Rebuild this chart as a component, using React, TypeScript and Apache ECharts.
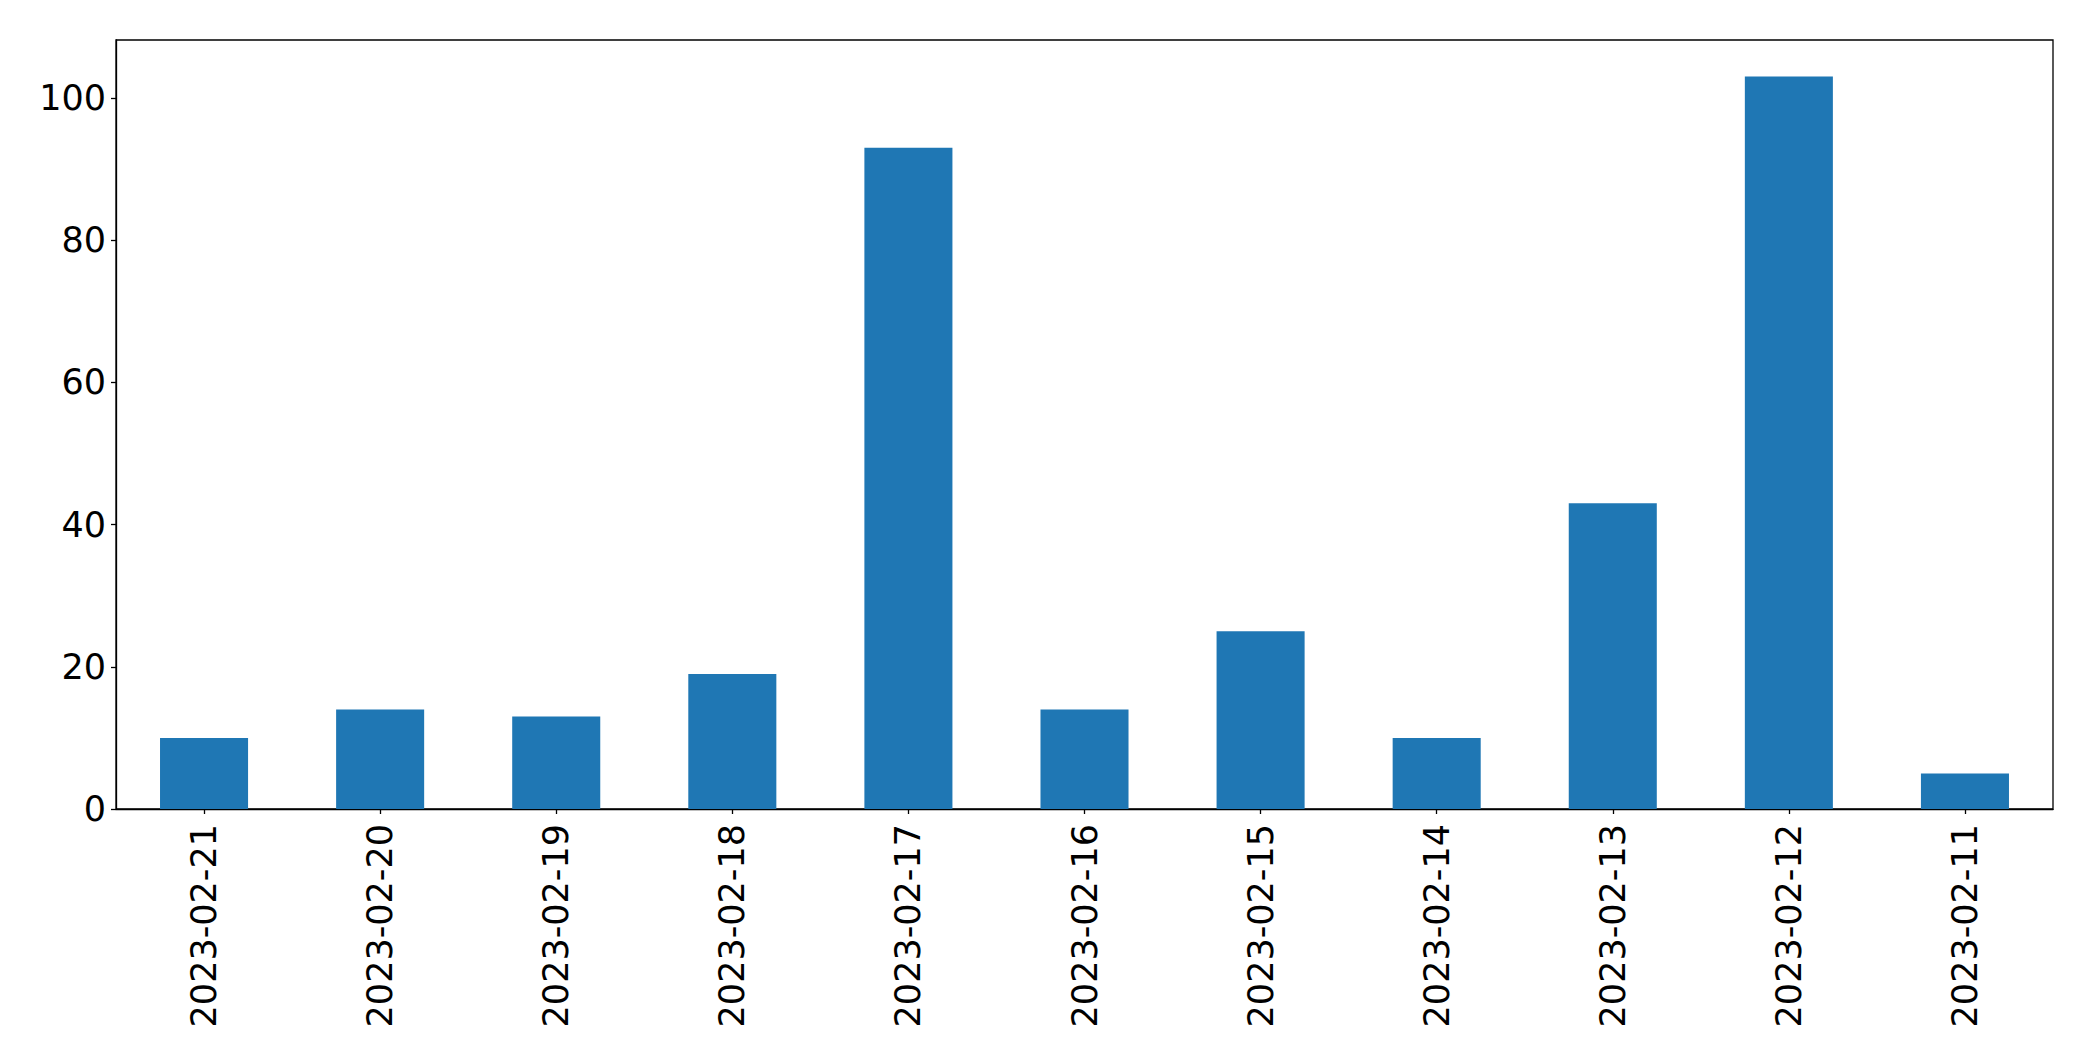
import React, { useEffect, useRef } from "react";
import * as echarts from "echarts";

const categories = [
  "2023-02-21",
  "2023-02-20",
  "2023-02-19",
  "2023-02-18",
  "2023-02-17",
  "2023-02-16",
  "2023-02-15",
  "2023-02-14",
  "2023-02-13",
  "2023-02-12",
  "2023-02-11",
];
const values = [10, 14, 13, 19, 93, 14, 25, 10, 43, 103, 5];
const yTicks = [0, 20, 40, 60, 80, 100];
const yMax = 108.15;

export default function App() {
  const ref = useRef<HTMLDivElement>(null);
  useEffect(() => {
    if (!ref.current) return;
    const chart = echarts.init(ref.current, null, { renderer: "svg" });
    const font = "DejaVu Sans";
    chart.setOption({
      animation: false,
      backgroundColor: "#ffffff",
      grid: {
        left: 116,
        right: 40,
        top: 40,
        bottom: 252,
        show: true,
        borderColor: "#000000",
        borderWidth: 1.3,
        backgroundColor: "transparent",
      },
      xAxis: {
        type: "category",
        data: categories,
        boundaryGap: true,
        axisLine: { show: true, lineStyle: { color: "#000000", width: 1.3 } },
        axisTick: {
          show: true,
          alignWithLabel: true,
          length: 5,
          lineStyle: { color: "#000000", width: 1.3 },
        },
        axisLabel: {
          rotate: 90,
          margin: 15,
          color: "#000000",
          fontFamily: font,
          fontSize: 35,
          interval: 0,
        },
        splitLine: { show: false },
      },
      yAxis: {
        type: "value",
        min: 0,
        max: yMax,
        axisLine: { show: true, lineStyle: { color: "#000000", width: 1.3 } },
        axisTick: {
          show: true,
          length: 5,
          customValues: yTicks,
          lineStyle: { color: "#000000", width: 1.3 },
        },
        axisLabel: {
          customValues: yTicks,
          margin: 10,
          color: "#000000",
          fontFamily: font,
          fontSize: 35,
        },
        splitLine: { show: false },
      },
      series: [
        {
          type: "bar",
          data: values,
          barWidth: "50%",
          itemStyle: { color: "#1f77b4" },
        },
      ],
    });
    return () => chart.dispose();
  }, []);
  return (
    <div
      ref={ref}
      style={{ position: "fixed", left: 0, top: 0, width: 2093, height: 1061 }}
    />
  );
}
